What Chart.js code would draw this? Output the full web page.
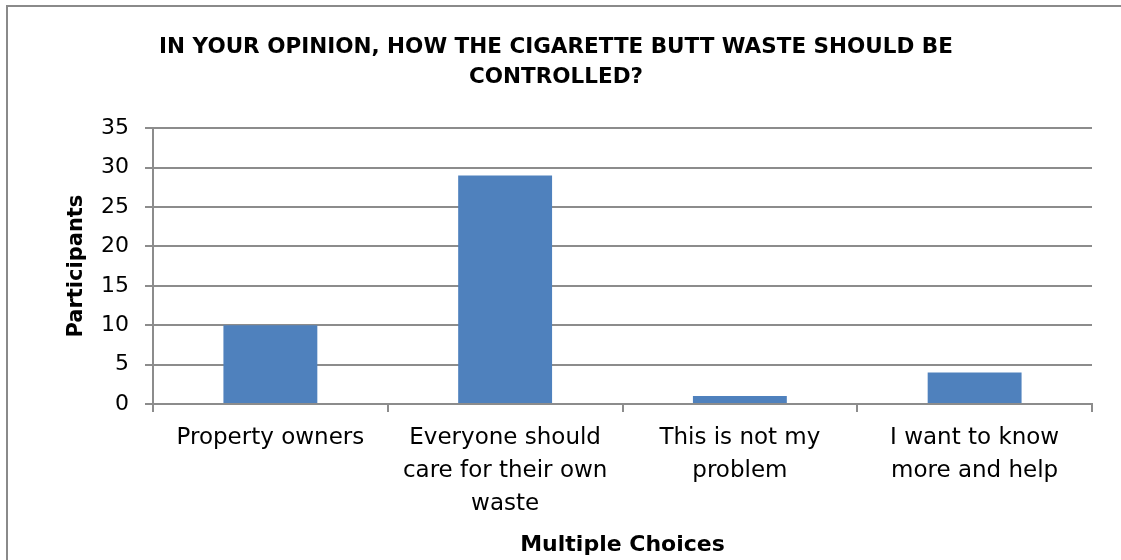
<!DOCTYPE html>
<html>
<head>
<meta charset="utf-8">
<title>Cigarette butt waste survey</title>
<script src="https://cdn.jsdelivr.net/npm/chart.js@4.4.1/dist/chart.umd.min.js"></script>
<style>
  html, body { margin: 0; padding: 0; background: #fff; }
  #wrap { width: 1121px; height: 560px; }
</style>
</head>
<body>
<div id="wrap"><canvas id="barChart" width="1121" height="560"></canvas></div>
<script>
// survey answers
const choices = [
  ["Property owners"],
  ["Everyone should", "care for their own", "waste"],
  ["This is not my", "problem"],
  ["I want to know", "more and help"]
];
const participants = [10, 29, 1, 4];
const yTicks = [0, 5, 10, 15, 20, 25, 30, 35];

const FONT = "'DejaVu Sans', sans-serif";
const GRID = "#8c8c8c";

// white page with the grey frame
const frame = {
  id: 'frame',
  beforeDraw(chart) {
    const ctx = chart.ctx;
    ctx.save();
    ctx.fillStyle = '#fff';
    ctx.fillRect(0, 0, chart.width, chart.height);
    ctx.strokeStyle = '#8a8a8a';
    ctx.lineWidth = 2;
    ctx.strokeRect(7, 6, chart.width + 20, chart.height + 20);
    ctx.restore();
  }
};

new Chart(document.getElementById('barChart'), {
  type: 'bar',
  data: {
    labels: choices,
    datasets: [{
      label: 'Participants',
      data: participants,
      backgroundColor: '#4f81bd',
      barPercentage: 0.4,
      categoryPercentage: 1.0
    }]
  },
  options: {
    responsive: false,
    animation: false,
    layout: { padding: { left: 20, right: 29, top: 0, bottom: 0 } },
    plugins: {
      legend: { display: false },
      tooltip: { enabled: false },
      title: {
        display: true,
        text: ['IN YOUR OPINION, HOW THE CIGARETTE BUTT WASTE SHOULD BE', 'CONTROLLED?'],
        color: '#000',
        font: { family: FONT, size: 21.5, weight: 'bold', lineHeight: 1.4 },
        padding: { top: 32, bottom: 36 }
      }
    },
    scales: {
      x: {
        grid: { drawOnChartArea: false, offset: true, color: GRID, lineWidth: 2, tickLength: 8 },
        border: { color: GRID, width: 2 },
        ticks: {
          color: '#000',
          font: { family: FONT, size: 23, lineHeight: 1.42 },
          padding: 10,
          maxRotation: 0,
          autoSkip: false
        },
        title: {
          display: true,
          text: 'Multiple Choices',
          color: '#000',
          font: { family: FONT, size: 22, weight: 'bold', lineHeight: 1.2 },
          padding: { top: 4, bottom: 2 }
        },
        afterFit(scale) { scale.height = 156; }
      },
      y: {
        min: 0,
        max: 35,
        afterBuildTicks(scale) { scale.ticks = yTicks.map(v => ({ value: v })); },
        grid: { color: GRID, lineWidth: 2, tickLength: 8 },
        border: { color: GRID, width: 2 },
        ticks: {
          color: '#000',
          font: { family: FONT, size: 22 },
          padding: 16
        },
        title: {
          display: true,
          text: 'Participants',
          color: '#000',
          font: { family: FONT, size: 21, weight: 'bold', lineHeight: 1.2 },
          padding: { top: 44, bottom: 0 }
        },
        afterFit(scale) { scale.width = 133; }
      }
    }
  },
  plugins: [frame]
});
</script>
</body>
</html>
